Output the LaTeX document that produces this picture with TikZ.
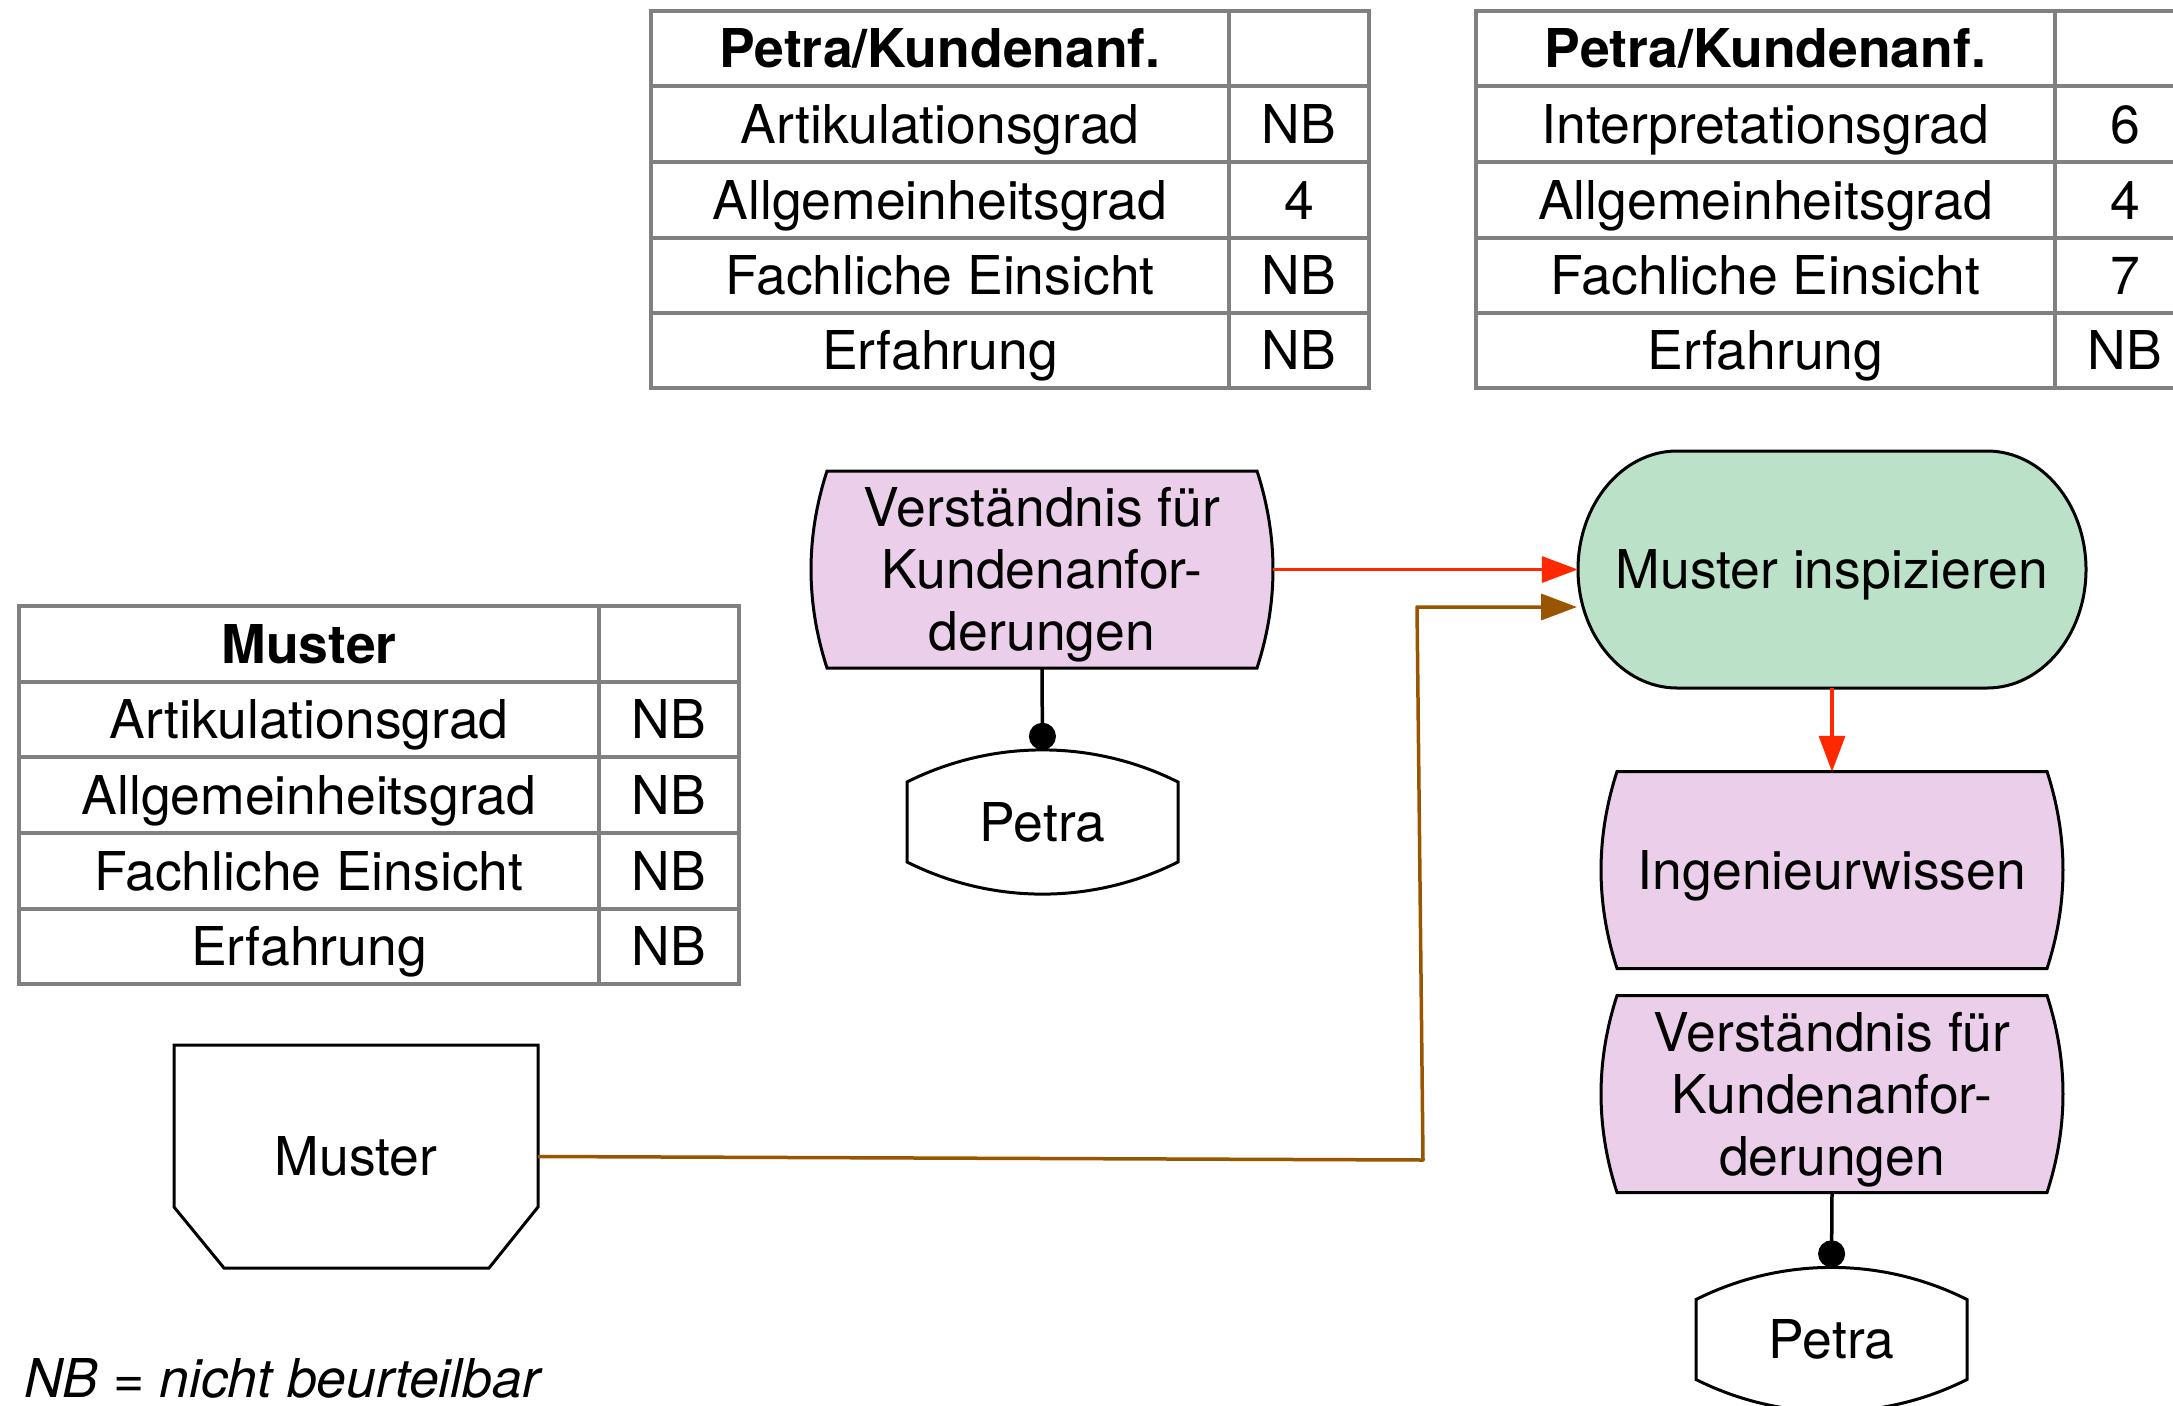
\documentclass[tikz,border=0pt]{standalone}
\usepackage{fontspec}
\setmainfont{TeX Gyre Heros}
\usetikzlibrary{arrows.meta}
\pgfdeclarelayer{background}
\pgfsetlayers{background,main}
\definecolor{lila}{RGB}{234,206,234}
\definecolor{gruen}{RGB}{187,225,201}
\definecolor{rot}{RGB}{255,40,0}
\definecolor{braun}{RGB}{153,85,0}
\definecolor{tabgrau}{RGB}{128,128,128}
\newcommand\lstrut{\rule[-11.8pt]{0pt}{62pt}}
\newcommand\docshape[1]{\path[outl, fill=lila, shift={(#1.center)}] (-215,-98.5) -- (215,-98.5) .. controls (236.3,-32.8) and (236.3,32.8) .. (215,98.5) -- (-215,98.5) .. controls (-236.3,32.8) and (-236.3,-32.8) .. cycle;}
\newcommand\persshape[1]{\path[outl, fill=white, shift={(#1.center)}] (-135.5,-40) .. controls (-50.1,-82.8) and (50.1,-82.8) .. (135.5,-40) -- (135.5,40) .. controls (50.1,82.8) and (-50.1,82.8) .. (-135.5,40) -- cycle;}
\begin{document}
\begin{tikzpicture}[x=1pt,y=-1pt,
  txt/.style={font=\fontsize{53.5}{62}\selectfont, inner sep=0pt, text height=50.2pt, text depth=11.8pt},
  headtxt/.style={txt, font=\fontsize{53.5}{62}\selectfont\bfseries},
  multi/.style={font=\fontsize{53.5}{62}\selectfont, inner sep=0pt, align=center},
  outl/.style={draw=black, line width=3pt, line join=miter},
  tab/.style={draw=tabgrau, line width=3.6pt},
  redarrow/.style={draw=rot, line width=3.5pt, -{Triangle[length=36pt,width=26pt]}},
  brownarrow/.style={draw=braun, line width=3.5pt, line join=round, -{Triangle[length=36pt,width=26pt]}},
  link/.style={draw=black, line width=3.5pt, -{Circle[length=27pt]}},
]
\useasboundingbox (0,0) rectangle (2173,1405);
\clip (0,0) rectangle (2173,1405);

% ---------- tables ----------
\draw[tab] (651,11) rectangle (1369,388);
\draw[tab] (1229,11) -- (1229,388);
\foreach \yy in {86,162,238,313} \draw[tab] (651,\yy) -- (1369,\yy);

\draw[tab] (1476,11) rectangle (2195,388);
\draw[tab] (2055,11) -- (2055,388);
\foreach \yy in {86,162,238,313} \draw[tab] (1476,\yy) -- (2195,\yy);

\draw[tab] (19,606) rectangle (739,984);
\draw[tab] (599,606) -- (599,984);
\foreach \yy in {682,757,833,909} \draw[tab] (19,\yy) -- (739,\yy);

% table 1
\node[headtxt] (t1h) at (940,48.5) {Petra/Kundenanf.};
\node[txt] (t1a) at (940,124) {Artikulationsgrad};
\node[txt] (t1b) at (940,200) {Allgemeinheitsgrad};
\node[txt] (t1c) at (940,275.5) {Fachliche Einsicht};
\node[txt] (t1d) at (940,350.5) {Erfahrung};
\node[txt] (t1av) at (1299,124) {NB};
\node[txt] (t1bv) at (1299,200) {4};
\node[txt] (t1cv) at (1299,275.5) {NB};
\node[txt] (t1dv) at (1299,350.5) {NB};

% table 2
\node[headtxt] (t2h) at (1765.5,48.5) {Petra/Kundenanf.};
\node[txt] (t2a) at (1765.5,124) {Interpretationsgrad};
\node[txt] (t2b) at (1765.5,200) {Allgemeinheitsgrad};
\node[txt] (t2c) at (1765.5,275.5) {Fachliche Einsicht};
\node[txt] (t2d) at (1765.5,350.5) {Erfahrung};
\node[txt] (t2av) at (2125,124) {6};
\node[txt] (t2bv) at (2125,200) {4};
\node[txt] (t2cv) at (2125,275.5) {7};
\node[txt] (t2dv) at (2125,350.5) {NB};

% table 3
\node[headtxt] (t3h) at (309,644) {Muster};
\node[txt] (t3a) at (309,719.5) {Artikulationsgrad};
\node[txt] (t3b) at (309,795) {Allgemeinheitsgrad};
\node[txt] (t3c) at (309,871) {Fachliche Einsicht};
\node[txt] (t3d) at (309,946.5) {Erfahrung};
\node[txt] (t3av) at (669,719.5) {NB};
\node[txt] (t3bv) at (669,795) {NB};
\node[txt] (t3cv) at (669,871) {NB};
\node[txt] (t3dv) at (669,946.5) {NB};

% ---------- nodes ----------
\node[multi, minimum width=462pt, minimum height=197pt] (v1) at (1042,569.5)
  {\lstrut Verständnis für\\Kundenanfor-\\derungen\lstrut};
\node[txt, minimum width=271pt, minimum height=144pt] (p1) at (1042.5,822) {Petra};
\node[txt, minimum width=508pt, minimum height=237pt] (mi) at (1832,569.5) {Muster inspizieren};
\node[txt, minimum width=460pt, minimum height=196pt] (ing) at (1832,870) {Ingenieurwissen};
\node[multi, minimum width=460pt, minimum height=198pt] (v2) at (1832,1094)
  {\lstrut Verständnis für\\Kundenanfor-\\derungen\lstrut};
\node[txt, minimum width=271pt, minimum height=144pt] (p2) at (1831.5,1339.5) {Petra};
\node[txt, minimum width=364pt, minimum height=223pt] (mu) at (356,1156.5) {Muster};
\node[txt, font=\fontsize{53.5}{62}\selectfont\itshape, anchor=base west] (nb) at (24,1397) {NB = nicht beurteilbar};

% ---------- shapes ----------
\begin{pgfonlayer}{background}
\docshape{v1}
\docshape{ing}
\docshape{v2}
\persshape{p1}
\persshape{p2}
\path[outl, fill=gruen, shift={(mi.center)}] (-155,-118.5) -- (155,-118.5)
  .. controls (209.7,-118.5) and (254,-65.4) .. (254,0)
  .. controls (254,65.4) and (209.7,118.5) .. (155,118.5) -- (-155,118.5)
  .. controls (-209.7,118.5) and (-254,65.4) .. (-254,0)
  .. controls (-254,-65.4) and (-209.7,-118.5) .. cycle;
\path[outl, fill=white, shift={(mu.center)}] (-182,-111.5) -- (182,-111.5) -- (182,50.5) -- (133,111.5) -- (-132,111.5) -- (-182,50.5) -- cycle;
\end{pgfonlayer}

% ---------- connectors ----------
\coordinate (k1) at (1423,1160);
\coordinate (k2) at (1417,607);
\coordinate (k3) at (1577,607);
\draw[redarrow] (v1.east) -- (mi.west);
\draw[redarrow] (mi.south) -- (ing.north);
\draw[brownarrow] (mu.east) -- (k1) -- (k2) -- (k3);
\draw[link] (v1.south) -- (p1.north);
\draw[link] (v2.south) -- (p2.north);
\end{tikzpicture}
\end{document}
